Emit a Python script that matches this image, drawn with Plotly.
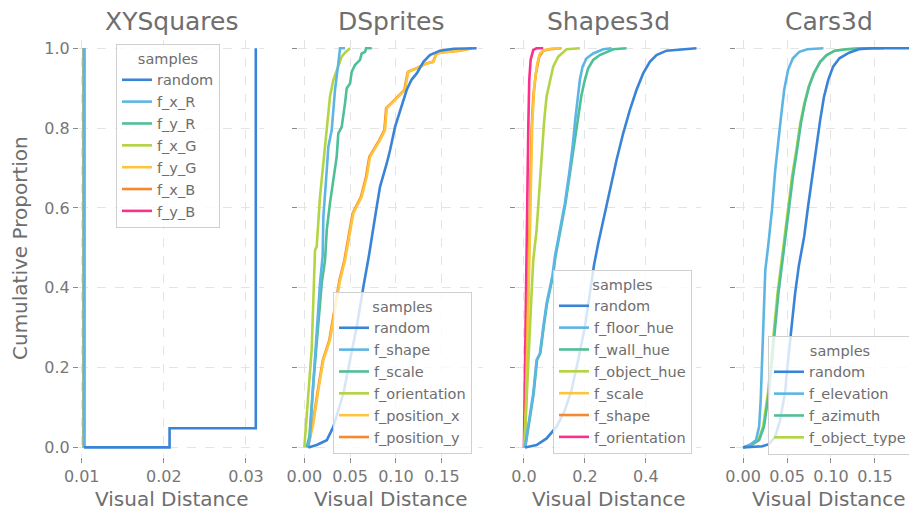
import plotly.graph_objects as go

# ---------------- DATA ----------------
PANEL_TITLES = ["XYSquares", "DSprites", "Shapes3d", "Cars3d"]
Y_TICKS = [0.0, 0.2, 0.4, 0.6, 0.8, 1.0]

# XYSquares
XY_NAMES = ["random", "f_x_R", "f_y_R", "f_x_G", "f_y_G", "f_x_B", "f_y_B"]
XY_RANDOM_X = [0.01028, 0.0207, 0.0207, 0.0312, 0.0312]
XY_RANDOM_P = [0.0, 0.0, 0.048, 0.048, 1.0]
XY_FACTOR_X = [0.01028, 0.01028]
XY_FACTOR_P = [0.0, 1.0]

# DSprites
DS_NAMES = ["random", "f_shape", "f_scale", "f_orientation", "f_position_x", "f_position_y"]
DS_RANDOM_X = [0.0044, 0.0135, 0.0245, 0.0317, 0.0426, 0.0499, 0.0572, 0.0644, 0.0705, 0.079,
               0.0826, 0.090, 0.0936, 0.099, 0.1045, 0.1118, 0.117, 0.1227, 0.130, 0.137, 0.148,
               0.163, 0.188]
DS_RANDOM_P = [0.0, 0.006, 0.018, 0.052, 0.135, 0.219, 0.302, 0.402, 0.48, 0.603,
               0.653, 0.712, 0.745, 0.803, 0.845, 0.896, 0.921, 0.937, 0.966, 0.983, 0.994,
               0.999, 1.0]
DS_SHAPE_X = [0.0044, 0.0062, 0.0098, 0.0135, 0.0171, 0.0200, 0.0208, 0.0245, 0.0262, 0.0299,
              0.0335, 0.0371, 0.039, 0.0444]
DS_SHAPE_P = [0.0, 0.027, 0.160, 0.286, 0.411, 0.48, 0.578, 0.695, 0.753, 0.795,
              0.896, 0.962, 1.0, 1.0]
DS_SCALE_X = [0.0026, 0.0055, 0.0098, 0.0142, 0.019, 0.0226, 0.0245, 0.028, 0.0317, 0.0353,
              0.0371, 0.0408, 0.0444, 0.0463, 0.0499, 0.0517, 0.0553, 0.0608, 0.0626, 0.0663,
              0.0674, 0.0736]
DS_SCALE_P = [0.0, 0.027, 0.160, 0.286, 0.411, 0.469, 0.545, 0.612, 0.678, 0.728,
              0.787, 0.803, 0.862, 0.900, 0.912, 0.941, 0.958, 0.971, 0.987, 0.991,
              1.0, 1.0]
DS_ORIENT_X = [0.0, 0.0026, 0.008, 0.0117, 0.0135, 0.0171, 0.0208, 0.0245, 0.028, 0.0317,
               0.0408, 0.0444, 0.0499]
DS_ORIENT_P = [0.0, 0.077, 0.244, 0.494, 0.503, 0.628, 0.712, 0.795, 0.879, 0.921,
               0.979, 0.989, 1.0]
DS_POSX_X = [0.003, 0.006, 0.0098, 0.0117, 0.0153, 0.0208, 0.028, 0.0335, 0.039, 0.0444,
             0.0535, 0.0626, 0.0681, 0.0717, 0.0826, 0.0881, 0.090, 0.0954, 0.1045, 0.110,
             0.1118, 0.1135, 0.119, 0.1263, 0.1336, 0.1408, 0.1445, 0.1518, 0.170, 0.183]
DS_POSX_P = [0.0, 0.02, 0.060, 0.094, 0.144, 0.219, 0.269, 0.344, 0.419, 0.469,
             0.586, 0.628, 0.678, 0.728, 0.770, 0.795, 0.850, 0.862, 0.883, 0.896,
             0.921, 0.941, 0.946, 0.954, 0.962, 0.966, 0.987, 0.990, 0.994, 1.0]
DS_POSY_X = [0.003, 0.0055, 0.0092, 0.0112, 0.0148, 0.0202, 0.0273, 0.0328, 0.0383, 0.0437,
             0.0527, 0.0618, 0.0673, 0.0709, 0.0818, 0.0873, 0.0893, 0.0947, 0.1038, 0.1093,
             0.1112, 0.113, 0.1185, 0.1258, 0.1332, 0.1405, 0.1442, 0.1515, 0.170, 0.182]
DS_POSY_P = DS_POSX_P

# Shapes3d
S3_NAMES = ["random", "f_floor_hue", "f_wall_hue", "f_object_hue", "f_scale", "f_shape", "f_orientation"]
S3_RANDOM_X = [0.0033, 0.0415, 0.0744, 0.1072, 0.1344, 0.1563, 0.178, 0.20, 0.2164, 0.2300,
               0.2437, 0.260, 0.282, 0.3039, 0.3257, 0.3475, 0.3695, 0.3913, 0.4131, 0.435,
               0.4678, 0.5115, 0.5662]
S3_RANDOM_P = [0.0, 0.006, 0.0226, 0.052, 0.093, 0.144, 0.219, 0.302, 0.386, 0.457,
               0.511, 0.570, 0.645, 0.720, 0.787, 0.845, 0.896, 0.937, 0.966, 0.983,
               0.994, 0.9975, 1.0]
S3_FLOOR_X = [0.0033, 0.0142, 0.0306, 0.0415, 0.0525, 0.0634, 0.0744, 0.0935, 0.1016, 0.118,
              0.1344, 0.1486, 0.1596, 0.1682, 0.176, 0.1836, 0.1924, 0.2056, 0.2273, 0.260, 0.2875]
S3_FLOOR_P = [0.0, 0.052, 0.135, 0.219, 0.236, 0.302, 0.361, 0.43, 0.478, 0.545,
              0.612, 0.687, 0.753, 0.820, 0.879, 0.921, 0.954, 0.975, 0.987, 0.9975, 1.0]
S3_WALL_X = [0.0045, 0.0155, 0.032, 0.043, 0.054, 0.065, 0.076, 0.0955, 0.1035, 0.120,
             0.1365, 0.151, 0.1635, 0.1760, 0.1880, 0.20, 0.2109, 0.2273, 0.249, 0.293, 0.3367]
S3_WALL_P = [0.0, 0.052, 0.135, 0.219, 0.236, 0.302, 0.361, 0.43, 0.478, 0.545,
             0.612, 0.687, 0.753, 0.820, 0.879, 0.921, 0.950, 0.971, 0.983, 0.9975, 1.0]
S3_OBJHUE_X = [0.0, 0.0033, 0.0087, 0.0142, 0.0197, 0.0251, 0.0306, 0.0339, 0.0416, 0.0492,
               0.058, 0.0666, 0.0744, 0.0852, 0.096, 0.1125, 0.140, 0.1836]
S3_OBJHUE_P = [0.0, 0.027, 0.119, 0.219, 0.302, 0.386, 0.469, 0.49, 0.545, 0.628,
               0.728, 0.820, 0.879, 0.921, 0.954, 0.979, 0.9975, 1.0]
S3_SCALE_X = [0.002, 0.007, 0.013, 0.0175, 0.022, 0.0273, 0.0339, 0.0437, 0.0525, 0.065,
              0.088, 0.121]
S3_SCALE_P = [0.0, 0.1, 0.3, 0.461, 0.670, 0.812, 0.904, 0.962, 0.987, 0.995,
              0.999, 1.0]
S3_SHAPE_X = [0.001, 0.006, 0.011, 0.0153, 0.0197, 0.0251, 0.0306, 0.0393, 0.0503, 0.0634,
              0.0852, 0.1235]
S3_SHAPE_P = [0.0, 0.1, 0.3, 0.461, 0.670, 0.795, 0.879, 0.937, 0.979, 0.994,
              0.9975, 1.0]
S3_ORIENT_X = [0.0, 0.004, 0.007, 0.0109, 0.0142, 0.0175, 0.022, 0.0306, 0.0415, 0.0634]
S3_ORIENT_P = [0.0, 0.25, 0.46, 0.628, 0.795, 0.921, 0.971, 0.996, 1.0, 1.0]

# Cars3d
C3_NAMES = ["random", "f_elevation", "f_azimuth", "f_object_type"]
C3_RANDOM_X = [0.0, 0.022, 0.0293, 0.0366, 0.0421, 0.0476, 0.0512, 0.0548, 0.0592, 0.0635,
               0.0695, 0.0739, 0.0786, 0.0833, 0.0877, 0.0921, 0.0969, 0.1024, 0.1096, 0.1206,
               0.1316, 0.1463, 0.21]
C3_RANDOM_P = [0.0, 0.003, 0.008, 0.027, 0.068, 0.135, 0.219, 0.302, 0.386, 0.456,
               0.528, 0.603, 0.678, 0.753, 0.820, 0.879, 0.921, 0.954, 0.975, 0.989,
               0.9975, 1.0, 1.0]
C3_ELEV_X = [0.0, 0.0073, 0.0147, 0.0183, 0.0201, 0.0219, 0.0238, 0.0253, 0.0285, 0.0329,
             0.0366, 0.0402, 0.0432, 0.0468, 0.0512, 0.0567, 0.064, 0.0731, 0.0914]
C3_ELEV_P = [0.0, 0.006, 0.018, 0.052, 0.119, 0.219, 0.344, 0.444, 0.503, 0.595,
             0.695, 0.778, 0.829, 0.896, 0.946, 0.975, 0.991, 0.9975, 1.0]
C3_AZIM_X = [0.0, 0.0092, 0.0183, 0.0238, 0.0293, 0.0329, 0.0366, 0.0402, 0.0442, 0.0482,
             0.0531, 0.0567, 0.0614, 0.0658, 0.0702, 0.075, 0.0805, 0.0877, 0.0951, 0.1042,
             0.117, 0.1353, 0.16]
C3_AZIM_P = [0.0, 0.006, 0.018, 0.052, 0.135, 0.219, 0.302, 0.386, 0.456, 0.528,
             0.612, 0.678, 0.745, 0.812, 0.862, 0.904, 0.937, 0.966, 0.983, 0.994,
             0.9975, 1.0, 1.0]
C3_OBJT_X = [0.0, 0.0095, 0.0175, 0.0228, 0.0283, 0.0319, 0.0356, 0.0392, 0.0432, 0.0472,
             0.0521, 0.0557, 0.0606, 0.0651, 0.0697, 0.0747, 0.0803, 0.0877, 0.0953, 0.1045,
             0.1175, 0.136, 0.155]
C3_OBJT_P = C3_AZIM_P

# ---------------- STYLE ----------------
COLORS = ["#3a84d7", "#5db5e3", "#4fbf95", "#b3d444", "#fdc43c", "#f5892f", "#fb2f8c"]
TEXT = "#6e6e6e"
FONT = "DejaVu Sans"
W, H = 909, 510
PANEL_PX = [(79, 264), (298, 483), (516, 701), (736, 921)]
TOP_PX, BOT_PX = 39.5, 457
X_RANGES = [[0.00967, 0.0322], [-0.0069, 0.195], [-0.026, 0.581], [-0.008, 0.1887]]
X_TICKS = [[0.01, 0.02, 0.03], [0.0, 0.05, 0.10, 0.15], [0.0, 0.2, 0.4], [0.0, 0.05, 0.10, 0.15]]
X_FMT = [".2f", ".2f", ".1f", ".2f"]

panels = [
    (XY_NAMES, [(XY_RANDOM_X, XY_RANDOM_P)] + [(XY_FACTOR_X, XY_FACTOR_P)] * 6),
    (DS_NAMES, [(DS_RANDOM_X, DS_RANDOM_P), (DS_SHAPE_X, DS_SHAPE_P), (DS_SCALE_X, DS_SCALE_P),
                (DS_ORIENT_X, DS_ORIENT_P), (DS_POSX_X, DS_POSX_P), (DS_POSY_X, DS_POSY_P)]),
    (S3_NAMES, [(S3_RANDOM_X, S3_RANDOM_P), (S3_FLOOR_X, S3_FLOOR_P), (S3_WALL_X, S3_WALL_P),
                (S3_OBJHUE_X, S3_OBJHUE_P), (S3_SCALE_X, S3_SCALE_P), (S3_SHAPE_X, S3_SHAPE_P),
                (S3_ORIENT_X, S3_ORIENT_P)]),
    (C3_NAMES, [(C3_RANDOM_X, C3_RANDOM_P), (C3_ELEV_X, C3_ELEV_P), (C3_AZIM_X, C3_AZIM_P),
                (C3_OBJT_X, C3_OBJT_P)]),
]
# legend boxes: (left px, top px)
LEGEND_POS = [(116, 44), (333, 292), (553, 270), (768, 336)]

fig = go.Figure()
layout = dict(
    width=W, height=H,
    margin=dict(l=0, r=0, t=0, b=0, autoexpand=False),
    paper_bgcolor="white", plot_bgcolor="white",
    font=dict(family=FONT, color=TEXT, size=16),
    annotations=[],
)

for i, (names, series) in enumerate(panels):
    ax = "" if i == 0 else str(i + 1)
    leg = "legend" if i == 0 else f"legend{i + 1}"
    # draw in reverse so the first level ends on top
    for j in reversed(range(len(names))):
        xs, ps = series[j]
        fig.add_trace(go.Scatter(
            x=xs, y=ps, mode="lines", name=names[j],
            line=dict(color=COLORS[j], width=2.6),
            xaxis="x" + ax, yaxis="y" + ax, legend=leg,
            hoverinfo="skip",
        ))
    l, r = PANEL_PX[i]
    layout["xaxis" + ax] = dict(
        domain=[l / W, min(r / W, 1.0)], anchor="y" + ax, range=X_RANGES[i],
        tickvals=X_TICKS[i], tickformat=X_FMT[i],
        showgrid=True, gridcolor="#e4e4e4", griddash="dash", gridwidth=1,
        zeroline=False, showline=False,
        ticks="outside", ticklen=5, tickwidth=1.2, tickcolor="#8a8a8a",
        tickfont=dict(size=16, color="#777777", family=FONT),
    )
    layout["yaxis" + ax] = dict(
        domain=[(H - BOT_PX) / H, (H - TOP_PX) / H], anchor="x" + ax, range=[-0.024, 1.022],
        tickvals=Y_TICKS, tickformat=".1f", showticklabels=(i == 0),
        showgrid=True, gridcolor="#e4e4e4", griddash="dash", gridwidth=1,
        zeroline=False, showline=False,
        ticks="outside", ticklen=5, tickwidth=1.2, tickcolor="#8a8a8a",
        tickfont=dict(size=16, color="#777777", family=FONT),
    )
    lx, ly = LEGEND_POS[i]
    layout[leg] = dict(
        x=lx / W, y=(H - ly) / H, xanchor="left", yanchor="top",
        xref="paper", yref="paper",
        bgcolor="rgba(255,255,255,0.8)", bordercolor="#d0d0d0", borderwidth=1,
        font=dict(size=14.5, color=TEXT, family=FONT),
        title=dict(text="samples", side="top center", font=dict(size=14.5, color=TEXT, family=FONT)),
        traceorder="reversed",
    )
    cx = (l + r) / 2 / W
    layout["annotations"].append(dict(
        text=PANEL_TITLES[i], x=cx, y=(H - 22) / H, xref="paper", yref="paper",
        xanchor="center", yanchor="middle", showarrow=False,
        font=dict(size=25, color=TEXT, family=FONT)))
    layout["annotations"].append(dict(
        text="Visual Distance", x=cx, y=(H - 498.5) / H, xref="paper", yref="paper",
        xanchor="center", yanchor="middle", showarrow=False,
        font=dict(size=20, color=TEXT, family=FONT)))

layout["annotations"].append(dict(
    text="Cumulative Proportion", x=20 / W, y=(H - 248) / H, xref="paper", yref="paper",
    xanchor="center", yanchor="middle", textangle=-90, showarrow=False,
    font=dict(size=20, color=TEXT, family=FONT)))

fig.update_layout(**layout)
fig.write_html("out.html",
               config={"displayModeBar": False},
               post_script="document.body.style.margin='0';document.body.style.overflow='hidden';")
